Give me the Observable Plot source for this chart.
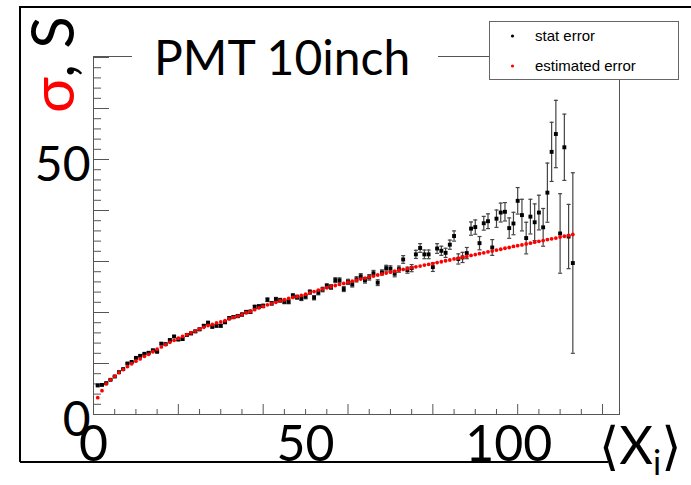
<!DOCTYPE html>
<html><head><meta charset="utf-8">
<script src="https://cdn.jsdelivr.net/npm/d3@7"></script>
<script src="https://cdn.jsdelivr.net/npm/@observablehq/plot@0.6"></script>
<style>body{margin:0;background:#fff} #chart svg{display:block}</style>
</head><body><div id="chart"></div>
<script>
// stat error: measured sigma per <X_i> bin (x = 1, 2, 3, ...)
const statError = [5.7, 5.8, 6.15, 6.8, 7.45, 8.3, 8.9, 10.0, 10.3, 11.1,
 11.5, 11.9, 12.1, 12.6, 12.3, 13.9, 13.8, 14.6, 15.3, 14.7,
 14.8, 15.6, 15.9, 16.3, 16.7, 17.4, 18.0, 17.2, 17.4, 17.4,
 18.1, 18.9, 19.1, 19.3, 19.6, 20.1, 20.15, 21.1, 21.2, 21.3,
 22.5, 21.8, 22.6, 22.4, 22.1, 22.1, 23.3, 23.0, 22.75, 23.1,
 24.0, 22.9, 23.9, 24.5, 25.2, 25.0, 26.35, 26.3, 24.6, 26.0,
 25.5, 26.5, 27.1, 26.3, 26.9, 27.7, 25.85, 27.85, 28.7, 28.6,
 27.6, 28.5, 30.4, 28.3, 28.7, 31.4, 32.65, 31.4, 31.4, 28.9,
 32.55, 32.1, 31.7, 33.3, 35.0, 30.5, 30.8, 31.65, 36.45, 36.75,
 33.6, 37.5, 37.9, 32.75, 38.4, 39.6, 39.75, 36.55, 37.45, 41.9,
 39.1, 34.6, 38.8, 37.7, 39.6, 36.7, 43.5, 51.5, 55.0, 35.5,
 52.4, 34.9, 29.7];
// half-length of the stat error bars
const statErrorBar = [0.1,0.1,0.1,0.1,0.1,0.1,0.12,0.12,0.12,0.13,
 0.14,0.14,0.15,0.15,0.16,0.17,0.17,0.18,0.19,0.2,
 0.2,0.21,0.22,0.22,0.23,0.24,0.25,0.25,0.26,0.27,
 0.28,0.28,0.29,0.3,0.3,0.31,0.32,0.33,0.33,0.34,
 0.35,0.35,0.36,0.37,0.37,0.38,0.39,0.4,0.4,0.41,
 0.42,0.42,0.43,0.44,0.45,0.46,0.47,0.48,0.49,0.5,
 0.5,0.51,0.52,0.53,0.54,0.55,0.56,0.5,0.55,0.55,
 0.6,0.6,0.75,0.6,0.7,0.8,0.85,0.85,0.85,0.85,
 0.95,0.9,0.9,0.9,1.0,1.0,1.0,1.1,1.3,1.4,
 1.3,1.35,1.45,1.55,1.7,1.85,1.8,2.0,2.2,2.6,
 3.1,3.1,3.4,3.6,3.4,3.7,5.8,5.8,6.6,7.8,
 6.5,6.3,17.7];
// estimated error per bin
const estimatedError = [3.3, 4.67, 6.0, 6.8, 7.5, 8.2, 8.8, 9.4, 9.95, 10.45,
 10.9, 11.4, 11.8, 12.3, 12.8, 13.25, 13.7, 14.15, 14.55, 14.95,
 15.3, 15.65, 16.0, 16.35, 16.75, 17.1, 17.45, 17.65, 17.95, 18.15,
 18.4, 18.75, 19.05, 19.3, 19.6, 19.95, 20.2, 20.55, 20.9, 21.2,
 21.5, 21.75, 22.0, 22.3, 22.5, 22.75, 22.95, 23.1, 23.35, 23.6,
 23.85, 24.1, 24.4, 24.6, 24.85, 25.05, 25.3, 25.5, 25.7, 25.95,
 26.15, 26.35, 26.55, 26.75, 26.95, 27.15, 27.35, 27.55, 27.75, 27.9,
 28.1, 28.3, 28.45, 28.6, 28.8, 28.95, 29.1, 29.3, 29.45, 29.6,
 29.8, 29.95, 30.15, 30.3, 30.5, 30.65, 30.85, 31.0, 31.2, 31.35,
 31.55, 31.7, 31.9, 32.05, 32.25, 32.4, 32.6, 32.75, 32.95, 33.1,
 33.25, 33.45, 33.6, 33.8, 33.95, 34.1, 34.3, 34.45, 34.6, 34.8,
 34.95, 35.1, 35.3];

const xMajorTicks = [0, 20, 40, 60, 80, 100, 120];
const xMinorTicks = [5, 10, 15, 25, 30, 35, 45, 50, 55, 65, 70, 75, 85, 90, 95, 105, 110, 115];
const yMajorTicks = [0, 10, 20, 30, 40, 50, 60, 70];
const yMinorTicks = [2, 4, 6, 8, 12, 14, 16, 18, 22, 24, 26, 28, 32, 34, 36, 38, 42, 44, 46, 48, 52, 54, 56, 58, 62, 64, 66, 68];
const xTickLabels = [0, 50];
const xTickLabelsWide = [100];
const yTickLabels = [0, 50];
const titleText = "PMT 10inch";
const legendLabels = ["stat error", "estimated error"];
const seriesColors = ["#000000", "#ff0000"];

const stat = statError.map((y, i) => ({x: i + 1, y, e: statErrorBar[i]}));
const est = estimatedError.map((y, i) => ({x: i + 1, y}));

const capSymbol = {draw(ctx, size) { const r = Math.sqrt(size / Math.PI); ctx.moveTo(-r, 0); ctx.lineTo(r, 0); }};
const tickStyle = {fill: "none", stroke: "#555", label: null};
const bigFont = "Lato, 'DejaVu Sans', sans-serif";
const xLabelStyle = {tickSize: 0, tickPadding: 11, fontSize: 50, fontFamily: bigFont, fill: "black", label: null};

const plot = Plot.plot({
  width: 691, height: 485,
  marginLeft: 93, marginRight: 72, marginTop: 56, marginBottom: 71,
  x: {domain: [0, 124]},
  y: {domain: [0, 70.2]},
  style: {background: "white"},
  marks: [
    Plot.frame({stroke: "#555"}),
    Plot.axisX(xMajorTicks, {...tickStyle, tickSize: -10}),
    Plot.axisX(xMinorTicks, {...tickStyle, tickSize: -5}),
    Plot.axisY(yMajorTicks, {...tickStyle, tickSize: -16}),
    Plot.axisY(yMinorTicks, {...tickStyle, tickSize: -8}),
    Plot.axisX(xTickLabels, xLabelStyle),
    Plot.axisX(xTickLabelsWide, {...xLabelStyle, dx: -9}),
    Plot.axisY(yTickLabels, {tickSize: 0, tickPadding: 3, fontSize: 48, fontFamily: bigFont, fill: "black", dy: 6, label: null}),
    Plot.ruleX(stat, {x: "x", y1: d => d.y - d.e, y2: d => d.y + d.e, stroke: "#444", strokeWidth: 1.2}),
    Plot.dot(stat, {x: "x", y: d => d.y + d.e, symbol: capSymbol, r: 2, fill: "none", stroke: "#444", strokeWidth: 1.2}),
    Plot.dot(stat, {x: "x", y: d => d.y - d.e, symbol: capSymbol, r: 2, fill: "none", stroke: "#444", strokeWidth: 1.2}),
    Plot.dot(stat, {x: "x", y: "y", symbol: "square", r: 2.2, fill: seriesColors[0]}),
    Plot.dot(est, {x: "x", y: "y", r: 1.9, fill: seriesColors[1]})
  ]
});

const svg = d3.select(plot);
// outer page lines
svg.append("path").attr("d", "M20,462V7H691").attr("fill", "none").attr("stroke", "black").attr("stroke-width", 2);
svg.append("line").attr("x1", 20).attr("x2", 608).attr("y1", 462).attr("y2", 462).attr("stroke", "black").attr("stroke-width", 2);
// title
svg.append("rect").attr("x", 132).attr("y", 40).attr("width", 306).attr("height", 30).attr("fill", "white");
svg.append("text").attr("x", 154).attr("y", 75).attr("text-anchor", "start").attr("font-family", bigFont).attr("font-size", 48).attr("fill", "black").text(titleText);
// legend
const lg = svg.append("g");
lg.append("rect").attr("x", 489.5).attr("y", 21.5).attr("width", 189).attr("height", 58).attr("fill", "white").attr("stroke", "#666");
legendLabels.forEach((t, i) => {
  const cy = 36 + i * 30;
  lg.append("circle").attr("cx", 512.5).attr("cy", cy).attr("r", 1.6).attr("fill", seriesColors[i]);
  lg.append("text").attr("x", 535).attr("y", cy).attr("dy", "0.35em").attr("text-anchor", "start").attr("font-family", "'Liberation Sans', Arial, sans-serif").attr("font-size", 15).attr("fill", "black").text(t);
});
// y title: sigma, S
const yt = svg.append("text").attr("transform", "translate(74,113) rotate(-90)").attr("text-anchor", "start").attr("font-family", bigFont).attr("font-size", 60);
yt.append("tspan").attr("fill", "red").text("σ");
yt.append("tspan").attr("fill", "black").text(", S");
// x title
const xt = svg.append("text").attr("x", 599).attr("y", 464).attr("text-anchor", "start").attr("font-family", bigFont).attr("font-size", 52).attr("fill", "black");
xt.append("tspan").text("⟨X");
xt.append("tspan").attr("font-size", 34).attr("dy", 11).text("i");
xt.append("tspan").attr("dy", -11).text("⟩");

document.getElementById("chart").appendChild(plot);
</script>
</body></html>
